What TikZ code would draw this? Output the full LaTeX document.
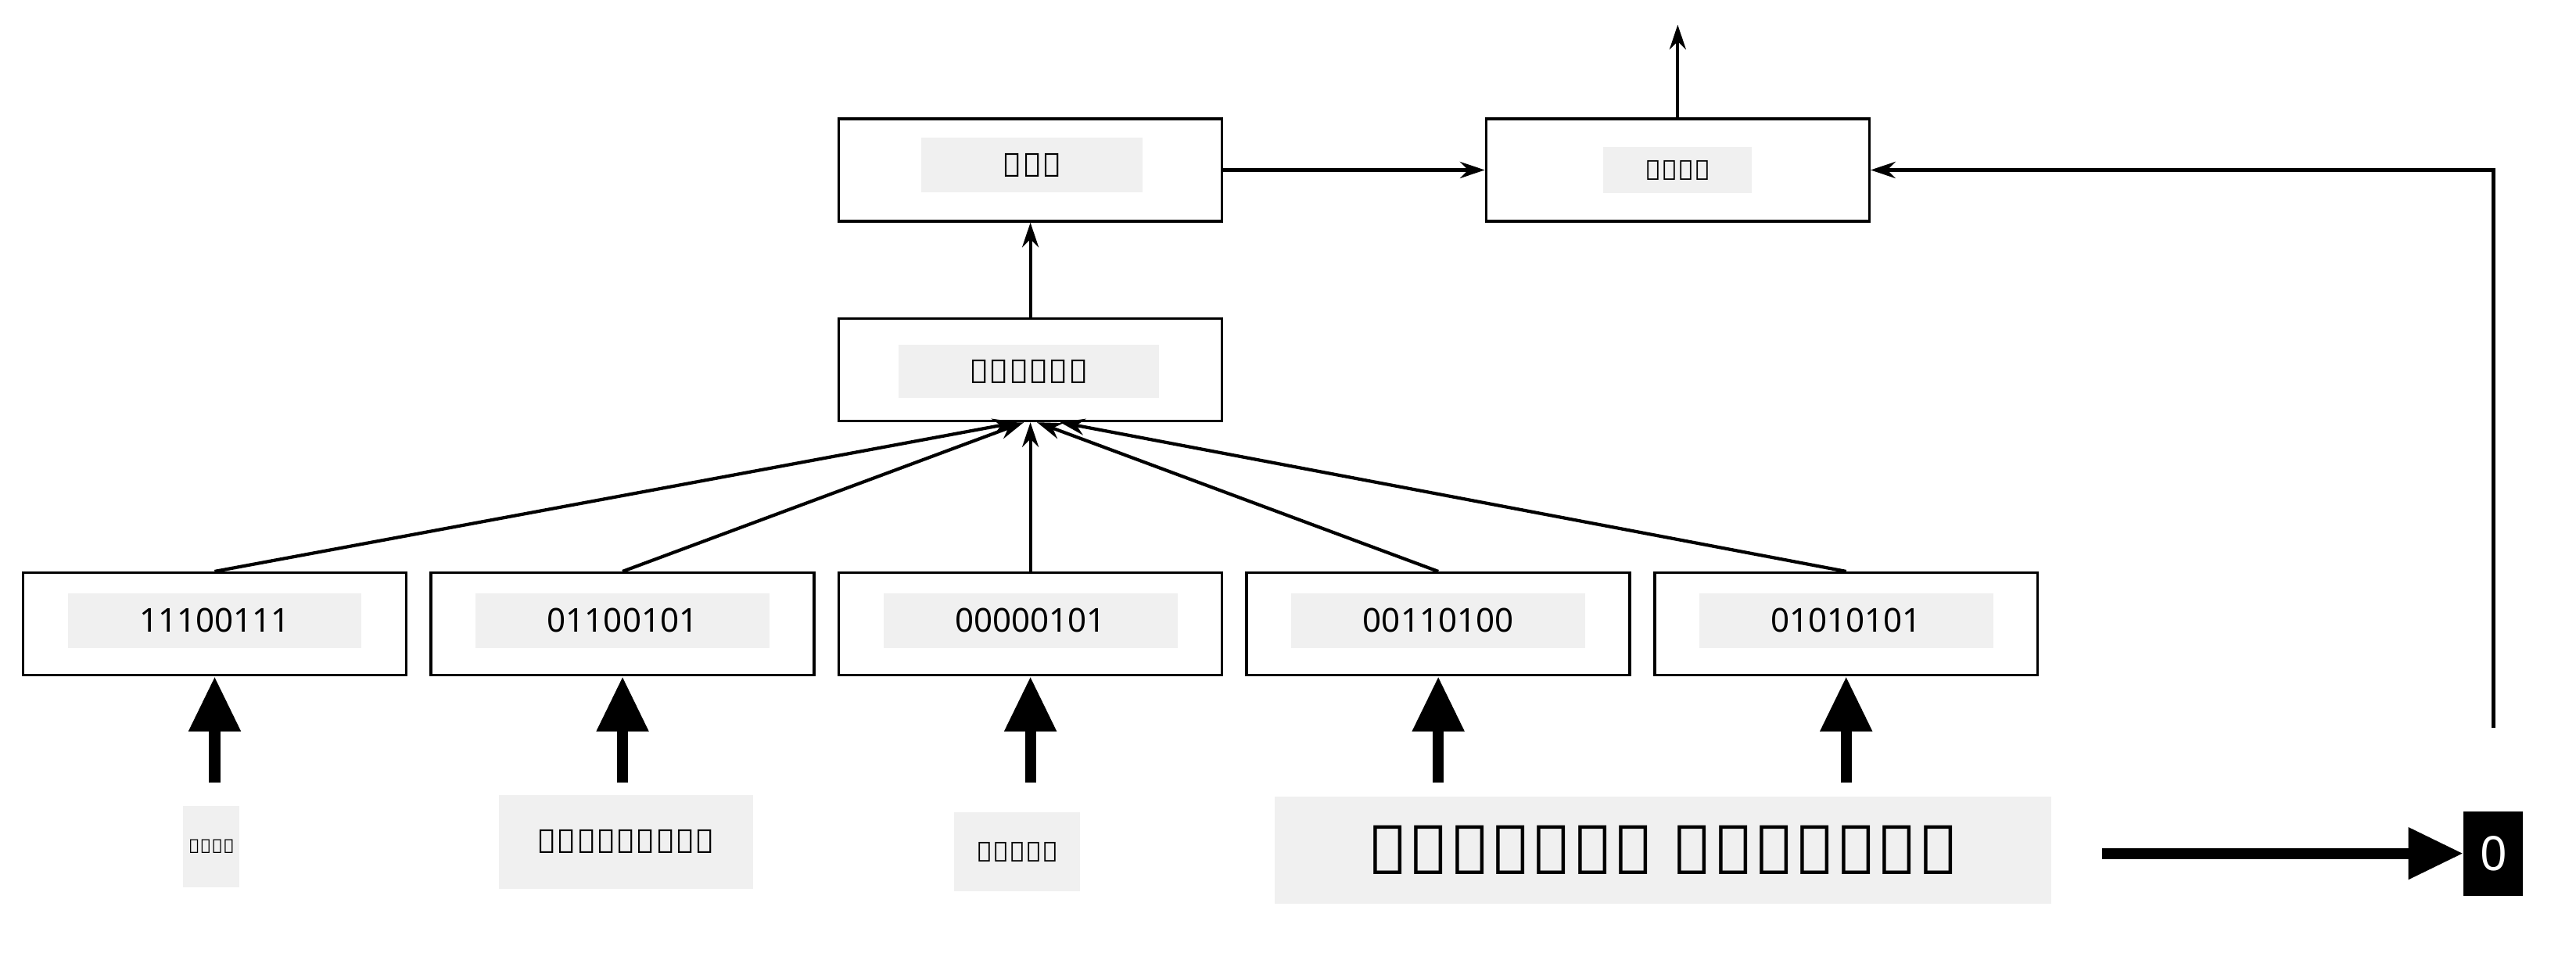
\documentclass[tikz,border=0pt]{standalone}
\usepackage{fontspec}
\setmainfont{Noto Sans}
\usetikzlibrary{arrows.meta}
\begin{document}
\begin{tikzpicture}[x=0.02115cm,y=-0.02115cm,
  box/.style={draw,line width=1pt,minimum width=232*0.02115cm,minimum height=62*0.02115cm},
  lab/.style={fill=black!6,inner sep=0pt},
  thin/.style={line width=1.2pt,-{Stealth[length=9pt,width=6pt]}},
  thick/.style={line width=4pt,-{Triangle[length=20pt,width=18pt]}}]
\useasboundingbox (0,0) rectangle (1560,592);
\foreach \n/\x/\t in {b1/130/11100111,b2/377/01100101,b3/624/00000101,b4/871/00110100,b5/1118/01010101}{
  \node[box] (\n) at (\x,378) {};
  \node[lab,minimum width=178*0.02115cm,minimum height=33*0.02115cm,font=\large] (\n t) at (\x,376) {\t};
}
\node[box] (avg) at (624,224) {};
\node[lab,minimum width=158*0.02115cm,minimum height=32*0.02115cm,font=\large] (avgt) at (623,225) {ಸರಾಸರಿ};
\node[box] (sar) at (624,103) {};
\node[lab,minimum width=134*0.02115cm,minimum height=33*0.02115cm,font=\large] (sart) at (625,100) {ಸರಳ};
\node[box] (loss) at (1016,103) {};
\node[lab,minimum width=90*0.02115cm,minimum height=28*0.02115cm] (losst) at (1016,103) {ನಷ್ಟ};
\coordinate (top) at (1016,15);
\coordinate (c1) at (1510,441);
\coordinate (c2) at (1510,103);
\draw[thin] (loss.north) -- (top);
\draw[thin] (avg.north) -- (sar.south);
\draw[thin] (sar.east) -- (loss.west);
\draw[thin] (c1) -- (c2) -- (loss.east);
\draw[thin] (b1.north) -- ([xshift=-8*0.02115cm]avg.south);
\draw[thin] (b2.north) -- ([xshift=-4*0.02115cm]avg.south);
\draw[thin] (b3.north) -- (avg.south);
\draw[thin] (b4.north) -- ([xshift=4*0.02115cm]avg.south);
\draw[thin] (b5.north) -- ([xshift=18*0.02115cm]avg.south);
\node[lab,minimum width=34*0.02115cm,minimum height=49*0.02115cm,font=\scriptsize] (w1) at (128,513) {ನಾನು};
\node[lab,minimum width=154*0.02115cm,minimum height=57*0.02115cm,font=\large] (w2) at (379,510) {ಇಷ್ಟಪಟ್ಟು};
\node[lab,minimum width=76*0.02115cm,minimum height=48*0.02115cm,font=\normalsize] (w3) at (616,516) {ಮಾಡಲು};
\node[lab,minimum width=470*0.02115cm,minimum height=65*0.02115cm,font=\Huge] (w4) at (1007,515) {ಇನ್ಮುದು ನೆಡುಮದು};
\node[fill=black,text=white,minimum width=36*0.02115cm,minimum height=51*0.02115cm,inner sep=0pt,font=\LARGE] (zero) at (1510,517) {0};
\foreach \i/\x in {1/130,2/377,3/624,4/871,5/1118}{
  \coordinate (s\i) at (\x,474);
  \draw[thick] (s\i) -- (b\i.south);
}
\coordinate (a1) at (1273,517);
\draw[thick] (a1) -- (zero.west);
\end{tikzpicture}
\end{document}
